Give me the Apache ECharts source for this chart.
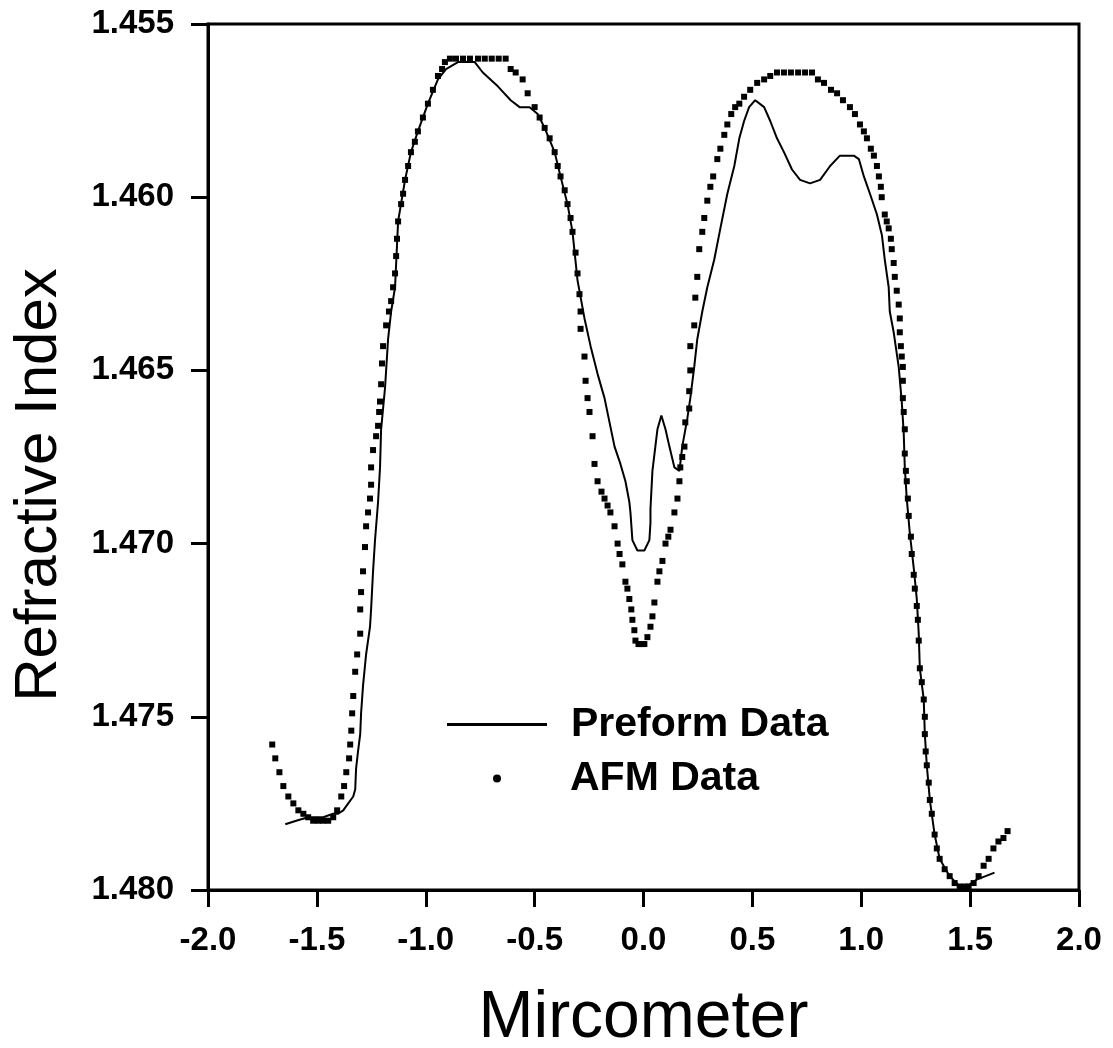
<!DOCTYPE html>
<html>
<head>
<meta charset="utf-8">
<script src="https://cdn.jsdelivr.net/npm/echarts@6/dist/echarts.min.js"></script>
<style>
html,body{margin:0;padding:0;background:#fff;}
#chart{width:1113px;height:1048px;}
</style>
</head>
<body>
<div id="chart"></div>
<script>
// Axis ticks
var xTickValues = [-2.0, -1.5, -1.0, -0.5, 0.0, 0.5, 1.0, 1.5, 2.0];
var yTickValues = [1.455, 1.460, 1.465, 1.470, 1.475, 1.480];

// Preform Data (solid line): [micrometer, refractive index]
var preformData = [
  [-1.645,1.4781],[-1.595,1.4780],[-1.540,1.4779],[-1.471,1.4779],[-1.425,1.4778],[-1.402,1.4778],
  [-1.379,1.4777],[-1.356,1.4775],[-1.333,1.4773],[-1.324,1.4771],[-1.320,1.4765],[-1.311,1.4760],
  [-1.301,1.4755],[-1.297,1.4749],[-1.288,1.4741],[-1.274,1.4732],[-1.256,1.4724],[-1.251,1.4719],
  [-1.242,1.4708],[-1.233,1.4699],[-1.219,1.4688],[-1.210,1.4678],[-1.205,1.4667],[-1.187,1.4655],
  [-1.173,1.4641],[-1.159,1.4633],[-1.141,1.4626],[-1.127,1.4607],[-1.095,1.4595],[-1.068,1.4587],
  [-1.036,1.4581],[-0.990,1.4573],[-0.944,1.4566],[-0.907,1.4563],[-0.852,1.4561],[-0.775,1.4561],
  [-0.738,1.4564],[-0.669,1.4568],[-0.610,1.4572],[-0.569,1.4574],[-0.523,1.4574],[-0.486,1.4576],
  [-0.454,1.4580],[-0.408,1.4587],[-0.381,1.4594],[-0.349,1.4602],[-0.326,1.4610],[-0.303,1.4624],
  [-0.271,1.4635],[-0.243,1.4643],[-0.211,1.4651],[-0.179,1.4658],[-0.156,1.4665],[-0.133,1.4672],
  [-0.106,1.4677],[-0.083,1.4682],[-0.065,1.4688],[-0.060,1.4691],[-0.051,1.4699],[-0.028,1.4702],
  [0.004,1.4702],[0.027,1.4699],[0.032,1.4694],[0.032,1.4690],[0.041,1.4679],[0.064,1.4667],
  [0.082,1.4663],[0.101,1.4667],[0.119,1.4672],[0.142,1.4678],[0.165,1.4679],[0.178,1.4672],
  [0.201,1.4664],[0.215,1.4658],[0.233,1.4649],[0.247,1.4641],[0.270,1.4633],[0.293,1.4626],
  [0.325,1.4618],[0.353,1.4609],[0.385,1.4599],[0.417,1.4591],[0.440,1.4583],[0.462,1.4578],
  [0.485,1.4574],[0.513,1.4572],[0.554,1.4574],[0.582,1.4578],[0.613,1.4583],[0.645,1.4587],
  [0.682,1.4592],[0.719,1.4595],[0.765,1.4596],[0.811,1.4595],[0.857,1.4591],[0.902,1.4588],
  [0.966,1.4588],[0.989,1.4589],[1.012,1.4594],[1.040,1.4599],[1.072,1.4605],[1.095,1.4611],
  [1.108,1.4618],[1.126,1.4626],[1.131,1.4633],[1.149,1.4639],[1.172,1.4649],[1.186,1.4659],
  [1.195,1.4668],[1.200,1.4678],[1.209,1.4687],[1.223,1.4697],[1.241,1.4707],[1.255,1.4716],
  [1.264,1.4726],[1.269,1.4736],[1.287,1.4745],[1.292,1.4755],[1.301,1.4764],[1.315,1.4774],
  [1.337,1.4784],[1.360,1.4791],[1.406,1.4796],[1.452,1.4799],[1.484,1.4799],[1.530,1.4797],
  [1.612,1.4795]
];

// AFM Data (dots): [micrometer, refractive index]
var afmData = [
  [-1.705,1.4758],[-1.691,1.4762],[-1.672,1.4766],[-1.654,1.4770],[-1.631,1.4773],[-1.608,1.4775],
  [-1.585,1.4777],[-1.562,1.4778],[-1.540,1.4779],[-1.517,1.4780],[-1.494,1.4780],[-1.471,1.4780],
  [-1.448,1.4780],[-1.425,1.4779],[-1.407,1.4777],[-1.388,1.4773],[-1.375,1.4770],[-1.365,1.4766],
  [-1.352,1.4762],[-1.347,1.4758],[-1.342,1.4754],[-1.338,1.4749],[-1.333,1.4744],[-1.324,1.4737],
  [-1.315,1.4732],[-1.301,1.4726],[-1.301,1.4719],[-1.297,1.4714],[-1.288,1.4708],[-1.279,1.4701],
  [-1.274,1.4695],[-1.265,1.4691],[-1.256,1.4687],[-1.251,1.4683],[-1.251,1.4678],[-1.242,1.4673],
  [-1.228,1.4669],[-1.219,1.4666],[-1.214,1.4662],[-1.210,1.4659],[-1.205,1.4654],[-1.201,1.4648],
  [-1.196,1.4643],[-1.182,1.4637],[-1.169,1.4633],[-1.159,1.4630],[-1.150,1.4626],[-1.141,1.4622],
  [-1.136,1.4617],[-1.132,1.4612],[-1.127,1.4607],[-1.113,1.4602],[-1.104,1.4599],[-1.095,1.4595],
  [-1.081,1.4591],[-1.068,1.4587],[-1.050,1.4584],[-1.036,1.4581],[-1.013,1.4577],[-0.990,1.4573],
  [-0.967,1.4569],[-0.944,1.4565],[-0.925,1.4563],[-0.912,1.4561],[-0.889,1.4560],[-0.861,1.4560],
  [-0.829,1.4560],[-0.797,1.4560],[-0.760,1.4560],[-0.729,1.4560],[-0.697,1.4560],[-0.665,1.4560],
  [-0.633,1.4560],[-0.610,1.4563],[-0.587,1.4564],[-0.555,1.4566],[-0.532,1.4570],[-0.500,1.4574],
  [-0.477,1.4577],[-0.454,1.4580],[-0.431,1.4583],[-0.408,1.4587],[-0.394,1.4591],[-0.381,1.4594],
  [-0.362,1.4598],[-0.349,1.4602],[-0.335,1.4606],[-0.326,1.4610],[-0.312,1.4616],[-0.303,1.4622],
  [-0.294,1.4628],[-0.289,1.4633],[-0.289,1.4638],[-0.271,1.4646],[-0.266,1.4653],[-0.257,1.4658],
  [-0.248,1.4662],[-0.234,1.4669],[-0.225,1.4677],[-0.211,1.4682],[-0.193,1.4685],[-0.179,1.4687],
  [-0.165,1.4689],[-0.152,1.4691],[-0.133,1.4695],[-0.119,1.4700],[-0.110,1.4703],[-0.097,1.4706],
  [-0.083,1.4711],[-0.074,1.4713],[-0.065,1.4716],[-0.056,1.4719],[-0.051,1.4722],[-0.042,1.4725],
  [-0.037,1.4728],[-0.023,1.4729],[-0.010,1.4729],[0.004,1.4729],[0.018,1.4727],[0.032,1.4724],
  [0.041,1.4721],[0.050,1.4717],[0.064,1.4711],[0.073,1.4708],[0.087,1.4705],[0.101,1.4700],
  [0.114,1.4698],[0.124,1.4696],[0.142,1.4691],[0.156,1.4687],[0.165,1.4682],[0.169,1.4678],
  [0.178,1.4675],[0.188,1.4672],[0.192,1.4665],[0.210,1.4661],[0.210,1.4656],[0.215,1.4650],
  [0.215,1.4643],[0.233,1.4637],[0.238,1.4629],[0.247,1.4623],[0.256,1.4615],[0.270,1.4610],
  [0.279,1.4606],[0.293,1.4601],[0.307,1.4597],[0.320,1.4594],[0.339,1.4589],[0.353,1.4586],
  [0.371,1.4582],[0.385,1.4579],[0.403,1.4576],[0.421,1.4574],[0.440,1.4573],[0.462,1.4571],
  [0.490,1.4569],[0.522,1.4567],[0.554,1.4566],[0.582,1.4565],[0.613,1.4564],[0.645,1.4564],
  [0.677,1.4564],[0.710,1.4564],[0.742,1.4564],[0.774,1.4564],[0.801,1.4566],[0.829,1.4567],
  [0.861,1.4569],[0.889,1.4570],[0.916,1.4572],[0.948,1.4574],[0.971,1.4576],[0.994,1.4579],
  [1.012,1.4581],[1.026,1.4583],[1.044,1.4586],[1.058,1.4588],[1.072,1.4591],[1.081,1.4594],
  [1.090,1.4597],[1.094,1.4600],[1.108,1.4605],[1.117,1.4607],[1.126,1.4609],[1.136,1.4612],
  [1.140,1.4615],[1.149,1.4619],[1.154,1.4623],[1.163,1.4627],[1.172,1.4631],[1.177,1.4635],
  [1.177,1.4639],[1.182,1.4643],[1.186,1.4646],[1.191,1.4649],[1.191,1.4653],[1.191,1.4658],
  [1.195,1.4662],[1.200,1.4667],[1.200,1.4674],[1.205,1.4679],[1.209,1.4682],[1.214,1.4687],
  [1.218,1.4692],[1.228,1.4698],[1.232,1.4703],[1.241,1.4709],[1.246,1.4713],[1.255,1.4718],
  [1.260,1.4722],[1.264,1.4728],[1.269,1.4736],[1.278,1.4740],[1.287,1.4745],[1.292,1.4750],
  [1.292,1.4755],[1.296,1.4760],[1.301,1.4764],[1.310,1.4769],[1.315,1.4774],[1.324,1.4778],
  [1.337,1.4784],[1.347,1.4788],[1.360,1.4791],[1.383,1.4794],[1.406,1.4796],[1.429,1.4798],
  [1.452,1.4799],[1.475,1.4799],[1.493,1.4799],[1.516,1.4798],[1.539,1.4796],[1.562,1.4793],
  [1.585,1.4791],[1.607,1.4788],[1.630,1.4786],[1.653,1.4785],[1.672,1.4783]
];

var FONT = '"Liberation Sans", Arial, sans-serif';
var chart = echarts.init(document.getElementById('chart'), null, {renderer: 'canvas'});
chart.setOption({
  animation: false,
  backgroundColor: '#ffffff',
  grid: {
    left: 208, right: 34, top: 24, bottom: 158,
    containLabel: false, outerBoundsMode: 'none',
    show: true, borderColor: '#000', borderWidth: 3, backgroundColor: 'transparent'
  },
  legend: [
    {
      data: [{name: 'Preform Data', icon: 'rect'}],
      left: 442, top: 699, orient: 'vertical',
      itemWidth: 100, itemHeight: 3,
      textStyle: {fontFamily: FONT, fontWeight: 'bold', fontSize: 41, color: '#000', lineHeight: 40, padding: [0,0,0,19]},
      selectedMode: false
    },
    {
      data: [{name: 'AFM Data', icon: 'circle'}],
      left: 488, top: 753, orient: 'vertical',
      itemWidth: 100, itemHeight: 8,
      textStyle: {fontFamily: FONT, fontWeight: 'bold', fontSize: 41, color: '#000', lineHeight: 40, padding: [0,0,0,18]},
      selectedMode: false
    }
  ],
  xAxis: {
    type: 'value', min: xTickValues[0], max: xTickValues[xTickValues.length - 1], interval: 0.5,
    name: 'Mircometer', nameLocation: 'middle', nameGap: 96,
    nameTextStyle: {fontFamily: FONT, fontSize: 66, color: '#000'},
    axisLine: {show: true, onZero: false, lineStyle: {color: '#000', width: 3}},
    axisTick: {show: true, length: 17, lineStyle: {color: '#000', width: 3}},
    axisLabel: {
      fontFamily: FONT, fontWeight: 'bold', fontSize: 33, color: '#000', margin: 34,
      formatter: function (v) { return v.toFixed(1); }
    },
    splitLine: {show: false}
  },
  yAxis: {
    type: 'value', inverse: true, min: yTickValues[0], max: yTickValues[yTickValues.length - 1], interval: 0.005,
    name: 'Refractive Index', nameLocation: 'middle', nameGap: 139,
    nameTextStyle: {fontFamily: FONT, fontSize: 60, color: '#000', padding: [0, 56, 0, 0]},
    axisLine: {show: true, onZero: false, lineStyle: {color: '#000', width: 3}},
    axisTick: {show: true, length: 17, lineStyle: {color: '#000', width: 3}},
    axisLabel: {
      fontFamily: FONT, fontWeight: 'bold', fontSize: 33, color: '#000', margin: 34,
      formatter: function (v) { return v.toFixed(3); }
    },
    splitLine: {show: false}
  },
  series: [
    {
      name: 'Preform Data', type: 'line', data: preformData,
      showSymbol: false, symbol: 'none', smooth: false,
      lineStyle: {color: '#000', width: 2},
      itemStyle: {color: '#000'}, z: 3
    },
    {
      name: 'AFM Data', type: 'scatter', data: afmData,
      symbol: 'rect', symbolSize: 6,
      itemStyle: {color: '#000', opacity: 1}, z: 2
    }
  ]
});
</script>
</body>
</html>
